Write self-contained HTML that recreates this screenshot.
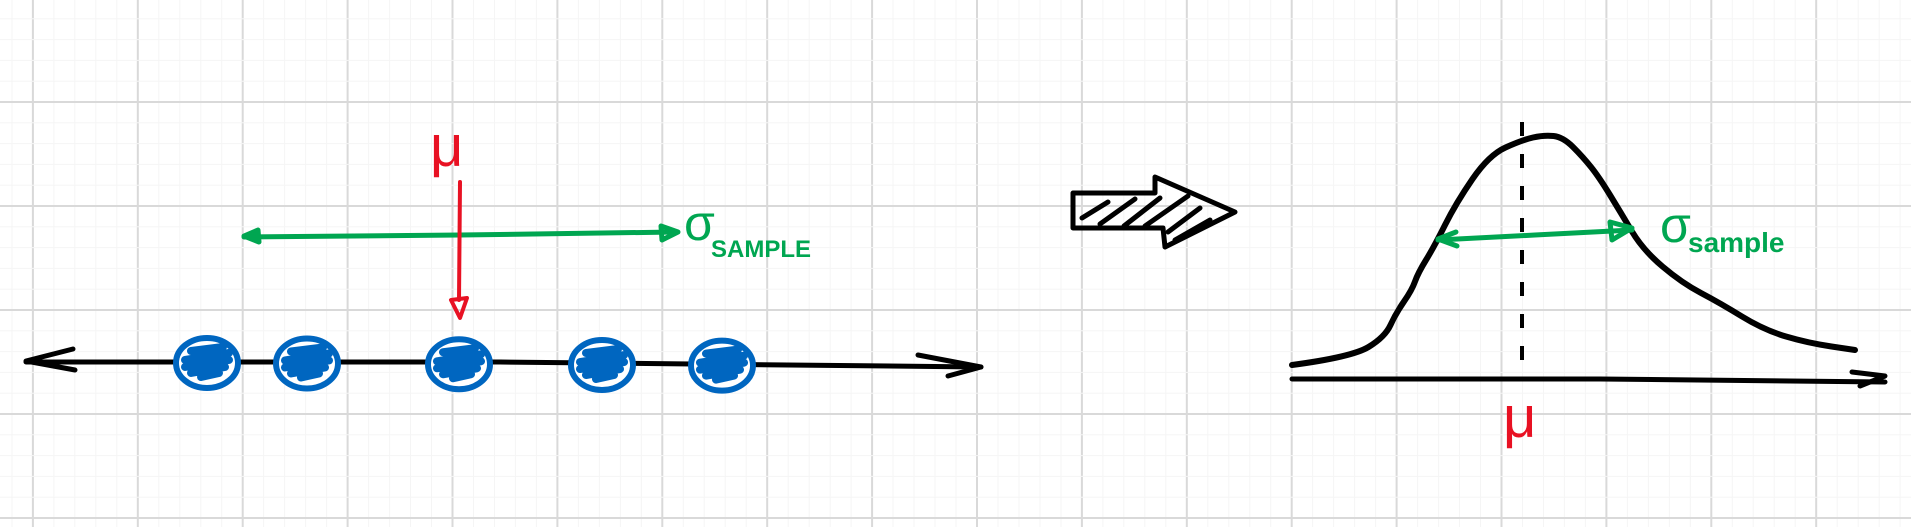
<!DOCTYPE html>
<html><head><meta charset="utf-8"><style>
html,body{margin:0;padding:0;background:#fff;}
svg{display:block;}
text{font-family:"Liberation Sans",sans-serif;}
</style></head><body>
<svg id="c" width="1911" height="527" viewBox="0 0 1911 527">
<g id="grid"></g>
<g id="left">
  <path d="M26,362 L500,362 L981,367" fill="none" stroke="#000" stroke-width="5" stroke-linecap="round"/>
  <path d="M73,349 L26,361 L75,370" fill="none" stroke="#000" stroke-width="5" stroke-linecap="round" stroke-linejoin="round"/>
  <path d="M918,355 L981,367 L948,376" fill="none" stroke="#000" stroke-width="5" stroke-linecap="round" stroke-linejoin="round"/>
  <g id="dots"></g>
  <path d="M244,237 L460,235 L676,232" fill="none" stroke="#00a651" stroke-width="5" stroke-linecap="round"/>
  <path d="M258,230 L244,236 L259,242 Z" fill="#00a651" stroke="#00a651" stroke-width="5" stroke-linejoin="round"/>
  <path d="M661,226 L678,232 L662,240 Z" fill="none" stroke="#00a651" stroke-width="5" stroke-linejoin="round"/>
  <text x="684" y="240" font-size="50" fill="#00a651">σ</text>
  <text x="711" y="257" font-size="24" font-weight="bold" fill="#00a651">SAMPLE</text>
  <path d="M460,182 L459,300" fill="none" stroke="#e81123" stroke-width="4" stroke-linecap="round"/>
  <path d="M451,300 L467,298 L460,318 Z" fill="none" stroke="#e81123" stroke-width="4" stroke-linejoin="round"/>
  <text x="430" y="166" font-size="58" fill="#e81123">μ</text>
</g>
<g>
  <path d="M1073,193 L1155,193 L1155,177 L1235,212 L1165,247 L1163,228 L1073,228 Z" fill="none" stroke="#000" stroke-width="5" stroke-linejoin="round"/>
  <path d="M1082,218 L1108,202 M1100,224 L1135,199 M1124,226 L1160,198 M1145,226 L1188,196 M1168,232 L1200,208 M1175,240 L1210,220" fill="none" stroke="#000" stroke-width="5" stroke-linecap="round"/>
</g>
<g id="right">
  <path d="M1292,379 L1600,379 L1885,382" fill="none" stroke="#000" stroke-width="5" stroke-linecap="round"/>
  <path d="M1852,372 L1885,376 L1860,386" fill="none" stroke="#000" stroke-width="5" stroke-linecap="round" stroke-linejoin="round"/>
  <path id="curve" fill="none" stroke="#000" stroke-width="6" stroke-linecap="round" stroke-linejoin="round"/>
  <path d="M1522,122 L1522,372" fill="none" stroke="#000" stroke-width="4" stroke-dasharray="14,18"/>
  <path d="M1438,240 L1535,235 L1632,230" fill="none" stroke="#00a651" stroke-width="5" stroke-linecap="round"/>
  <path d="M1456,232 L1438,239 L1457,246" fill="none" stroke="#00a651" stroke-width="5" stroke-linecap="round" stroke-linejoin="round"/>
  <path d="M1610,222 L1632,228 L1612,240 Z" fill="none" stroke="#00a651" stroke-width="5" stroke-linejoin="round"/>
  <text x="1660" y="242" font-size="50" fill="#00a651">σ</text>
  <text x="1688" y="252" font-size="28" font-weight="bold" fill="#00a651">sample</text>
  <text x="1503" y="437" font-size="58" fill="#e81123">μ</text>
</g>
</svg>
<script>
// sample point positions along the number line (pixel x of drawn points)
const sampleX = [207, 307, 459, 602, 722];
// bell curve values (x, height)
const curveX = [1292,1352,1385,1396,1412,1418,1434,1456,1489,1522,1544,1563,1583,1599,1621,1643,1682,1720,1764,1808,1855];
const curveY = [365,357,337,313,290,273,247,203,155,140,135,137,157,177,213,250,283,303,330,343,350];
const NS='http://www.w3.org/2000/svg';
const grid=document.getElementById('grid');
for(let i=0;i<=95;i++){const x=33+i*20.98-105;if(x<0||x>1911)continue;const l=document.createElementNS(NS,'line');


const major=Math.abs(((x-33)/104.9)-Math.round((x-33)/104.9))<0.02;
l.setAttribute('x1',x);l.setAttribute('x2',x);l.setAttribute('y1',0);l.setAttribute('y2',527);
l.setAttribute('stroke',major?'#d9d9d9':'#f5f5f5');l.setAttribute('stroke-width',major?2:1);grid.appendChild(l);}
for(let i=0;i<=30;i++){const y=-2+i*20.8;if(y<0||y>527)continue;const l=document.createElementNS(NS,'line');


const major=i%5==0;
l.setAttribute('x1',0);l.setAttribute('x2',1911);l.setAttribute('y1',y);l.setAttribute('y2',y);
l.setAttribute('stroke',major?'#d9d9d9':'#f5f5f5');l.setAttribute('stroke-width',major?2:1);grid.appendChild(l);}
const dots=document.getElementById('dots');
sampleX.forEach((x)=>{const y=362+(x-26)*5/955;
const e=document.createElementNS(NS,'ellipse');


e.setAttribute('cx',x);e.setAttribute('cy',y);e.setAttribute('rx',31);e.setAttribute('ry',25);
e.setAttribute('fill','#fff');e.setAttribute('stroke','#0066c0');e.setAttribute('stroke-width',6);dots.appendChild(e);
const s=document.createElementNS(NS,'path');


s.setAttribute('d',`M${x-16},${y-12} L${x+16},${y-16} M${x-22},${y-3} L${x+22},${y-10} M${x-22},${y+4} L${x+22},${y-3} M${x-16},${y+10} L${x+18},${y+4} M${x-6},${y+14} L${x+12},${y+10}`);
s.setAttribute('stroke','#0066c0');s.setAttribute('stroke-width',8);s.setAttribute('stroke-linecap','round');s.setAttribute('fill','none');dots.appendChild(s);});
let d='M'+curveX[0]+','+curveY[0];
for(let i=1;i<curveX.length-1;i++){const mx=(curveX[i]+curveX[i+1])/2,my=(curveY[i]+curveY[i+1])/2;d+=' Q'+curveX[i]+','+curveY[i]+' '+mx+','+my;}
d+=' L'+curveX[curveX.length-1]+','+curveY[curveY.length-1];
document.getElementById('curve').setAttribute('d',d);
</script>
</body></html>
